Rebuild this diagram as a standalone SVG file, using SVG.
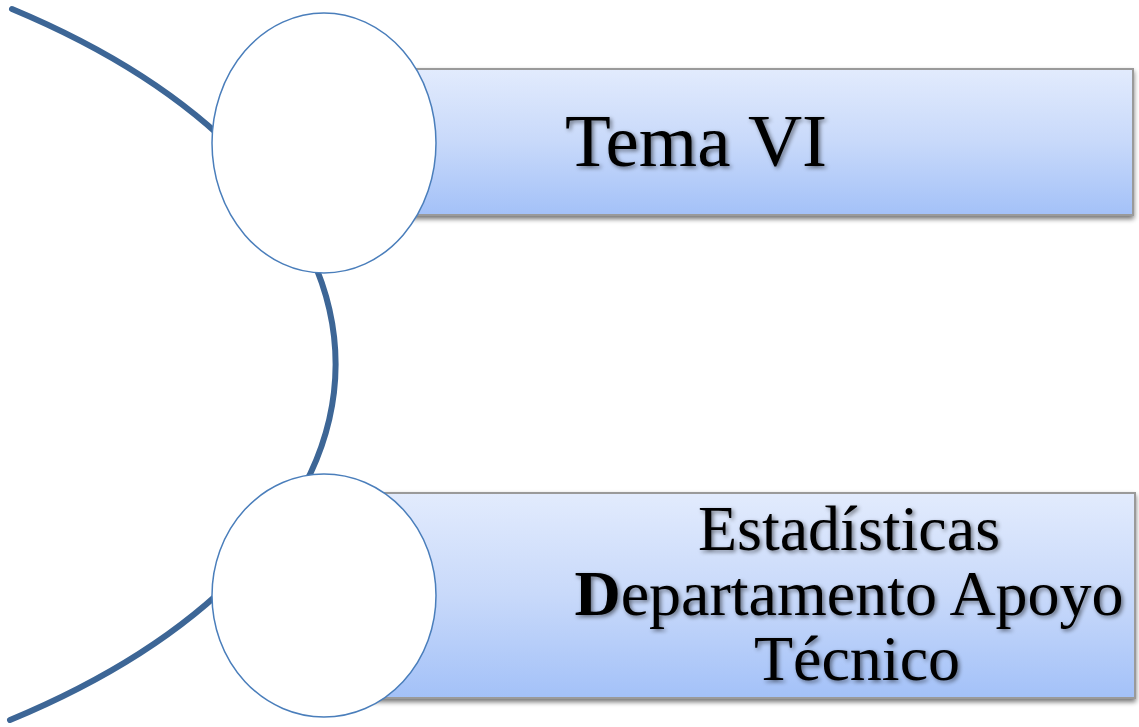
<svg xmlns="http://www.w3.org/2000/svg" width="1139" height="727" viewBox="0 0 1139 727">
<defs>
<linearGradient id="boxfill" x1="0" y1="0" x2="0" y2="1">
<stop offset="0" stop-color="#e2ebfd"/>
<stop offset="0.5" stop-color="#c8d9fa"/>
<stop offset="1" stop-color="#a3c1f8"/>
</linearGradient>
<filter id="boxshadow" x="-5%" y="-10%" width="110%" height="125%">
<feGaussianBlur in="SourceAlpha" stdDeviation="2.5"/>
<feOffset dx="0" dy="3" result="b"/>
<feComponentTransfer><feFuncA type="linear" slope="0.55"/></feComponentTransfer>
<feMerge><feMergeNode/><feMergeNode in="SourceGraphic"/></feMerge>
</filter>
<filter id="textshadow" x="-10%" y="-20%" width="120%" height="140%">
<feGaussianBlur in="SourceAlpha" stdDeviation="2"/>
<feOffset dx="2" dy="2" result="b"/>
<feComponentTransfer><feFuncA type="linear" slope="0.5"/></feComponentTransfer>
<feMerge><feMergeNode/><feMergeNode in="SourceGraphic"/></feMerge>
</filter>
</defs>
<style>
.box{fill:url(#boxfill);stroke:#9a9a9a;stroke-width:2;filter:url(#boxshadow)}
.node{fill:#ffffff;stroke:#4a7ebb;stroke-width:1.5}
.conn{fill:none;stroke:#3d6696;stroke-width:6;stroke-linecap:round}
.lbl{font-family:"Liberation Serif","Times New Roman",serif;fill:#000;filter:url(#textshadow)}
</style>
<g id="connectors">
<path class="conn" d="M12,9 A839,450 0 0 1 10,720"/>
</g>
<g id="node-tema">
<rect class="box" x="330" y="69" width="803" height="146"/>
<ellipse class="node" cx="324" cy="143" rx="112" ry="130"/>
<text class="lbl" x="565" y="166" font-size="75">Tema VI</text>
</g>
<g id="node-estadisticas">
<rect class="box" x="330" y="493" width="805" height="205"/>
<ellipse class="node" cx="324" cy="595.5" rx="112" ry="121.5"/>
<text class="lbl" font-size="64" text-anchor="middle">
<tspan x="857" y="550">Estadísticas</tspan>
<tspan x="857" y="615"><tspan font-weight="bold">D</tspan>epartamento Apoyo</tspan>
<tspan x="857" y="680">Técnico</tspan>
</text>
</g>
</svg>
